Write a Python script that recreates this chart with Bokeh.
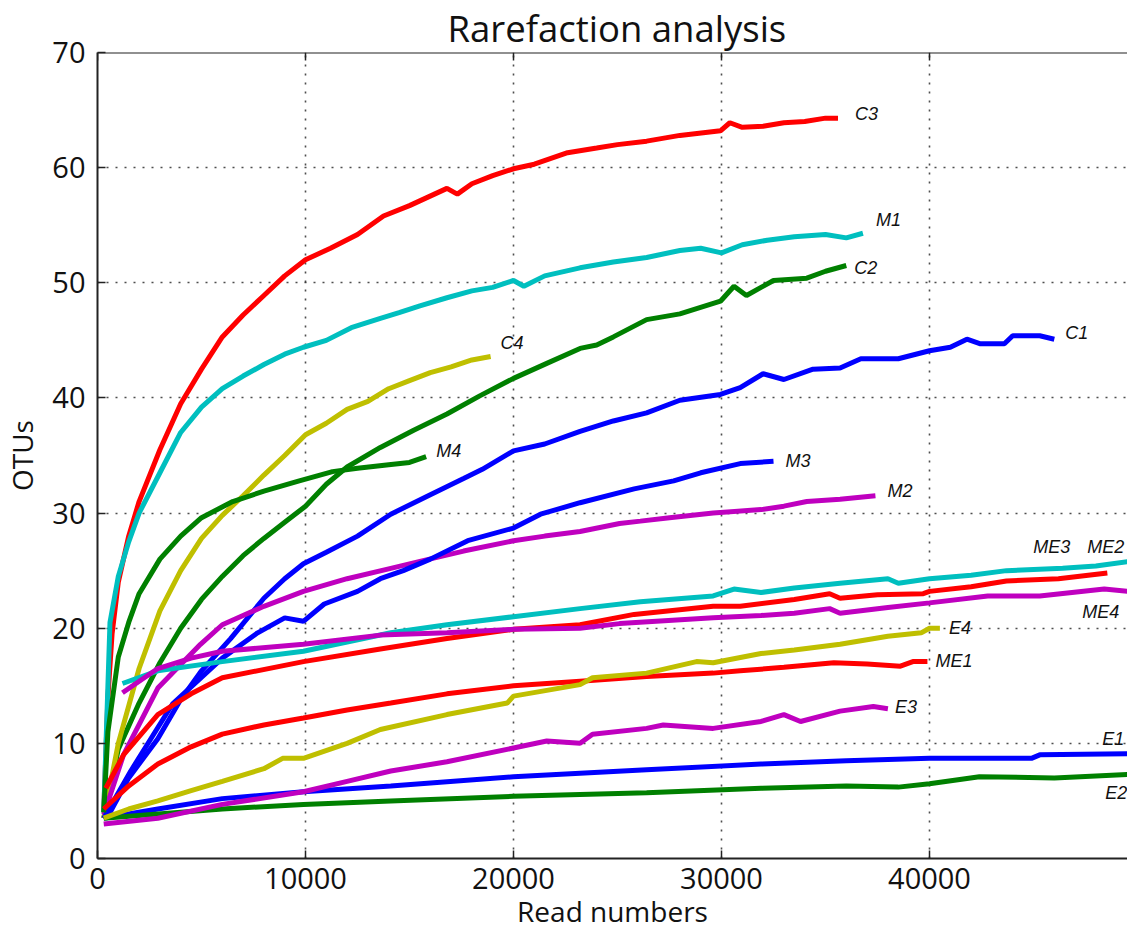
from bokeh.plotting import figure
from bokeh.models import Range1d, FixedTicker, ColumnDataSource, Span
from bokeh.core.properties import value
from bokeh.embed import file_html
from bokeh.resources import INLINE

# ---------------- data (read numbers vs OTUs) ----------------
C1_x = [300, 600, 1500, 2900, 4000, 5000, 6400, 8000, 9000, 9900, 11000, 12500, 14100, 16000, 17600, 18500, 20000, 21500, 23200, 24800, 26400, 28000, 29950, 30900, 32000, 33000, 34400, 35700, 36700, 38500, 40000, 41000, 41800, 42450, 43600, 44000, 45300, 46000]
C1_y = [3.5, 4, 7, 10.4, 13.8, 16.3, 19.1, 22.6, 24.3, 25.6, 26.6, 28, 29.9, 31.6, 33, 33.8, 35.4, 36, 37.1, 38, 38.7, 39.8, 40.3, 40.9, 42.1, 41.6, 42.5, 42.6, 43.4, 43.4, 44.1, 44.4, 45.1, 44.7, 44.7, 45.4, 45.4, 45.1]

C2_x = [300, 1000, 2000, 3000, 4000, 5000, 6000, 7000, 8000, 9000, 10000, 11000, 12000, 13600, 15200, 16800, 18400, 20000, 21600, 23200, 24000, 24800, 26400, 28000, 29950, 30600, 31200, 31900, 32500, 34100, 35000, 36000]
C2_y = [3.5, 9.5, 13.5, 17, 20, 22.5, 24.5, 26.3, 27.8, 29.2, 30.6, 32.5, 34, 35.7, 37.2, 38.6, 40.2, 41.7, 43, 44.3, 44.6, 45.3, 46.8, 47.3, 48.4, 49.7, 48.9, 49.6, 50.2, 50.4, 51, 51.5]

C3_x = [300, 500, 700, 1000, 1500, 2000, 3000, 4000, 5000, 6000, 7000, 8000, 9000, 10000, 11200, 12500, 13750, 15000, 16800, 17300, 18000, 19000, 20000, 21000, 22600, 24000, 25000, 26400, 28000, 29950, 30400, 31000, 32000, 33000, 34000, 35000, 35600]
C3_y = [4, 14, 19.5, 24, 28, 31, 35.5, 39.5, 42.5, 45.3, 47.2, 48.9, 50.6, 52, 53, 54.2, 55.8, 56.7, 58.2, 57.7, 58.6, 59.3, 59.9, 60.3, 61.3, 61.7, 62, 62.3, 62.8, 63.2, 63.9, 63.5, 63.6, 63.9, 64, 64.3, 64.3]

C4_x = [300, 1000, 2000, 3000, 4000, 5000, 6000, 7000, 8000, 9000, 10000, 11000, 12000, 13000, 14000, 15000, 16000, 17000, 18000, 18900]
C4_y = [3.5, 10, 16.5, 21.5, 25, 27.8, 29.8, 31.5, 33.3, 35, 36.8, 37.8, 39, 39.7, 40.8, 41.5, 42.2, 42.7, 43.3, 43.6]

M1_x = [300, 600, 1000, 1500, 2000, 3000, 4000, 5000, 6000, 7000, 8000, 9000, 9900, 11000, 12200, 13600, 14500, 15500, 16800, 18000, 19000, 20000, 20500, 21500, 23200, 24800, 26400, 28000, 29000, 30000, 31000, 32200, 33500, 35000, 36000, 36800]
M1_y = [4, 20.5, 24.5, 27.5, 30, 33.5, 37, 39.2, 40.8, 41.9, 42.9, 43.8, 44.4, 45, 46.1, 46.9, 47.4, 48, 48.7, 49.3, 49.6, 50.2, 49.7, 50.6, 51.3, 51.8, 52.2, 52.8, 53, 52.6, 53.3, 53.7, 54, 54.2, 53.9, 54.3]

M2_x = [300, 1250, 2900, 4950, 6000, 8000, 9900, 12000, 14100, 15500, 17600, 20000, 21500, 23200, 25100, 26100, 27500, 29600, 31900, 33000, 34100, 35700, 37400]
M2_y = [3.8, 9, 14.8, 18.6, 20.3, 21.9, 23.2, 24.3, 25.2, 25.8, 26.7, 27.6, 28, 28.4, 29.1, 29.3, 29.6, 30, 30.3, 30.6, 31, 31.2, 31.5]

M3_x = [300, 1600, 3600, 6000, 7700, 9000, 9900, 10900, 12500, 13600, 14700, 16000, 17800, 20000, 21300, 23200, 25800, 27700, 29000, 30900, 32500]
M3_y = [3.5, 7.6, 13.4, 17.4, 19.6, 20.9, 20.6, 22.1, 23.2, 24.3, 25, 26, 27.6, 28.7, 29.9, 30.9, 32.1, 32.8, 33.5, 34.3, 34.5]

M4_x = [300, 500, 1000, 1500, 2000, 3000, 4000, 5000, 6500, 8000, 9700, 11300, 12500, 14000, 15000, 15800]
M4_y = [4, 11, 17.5, 20.5, 23, 26, 28, 29.6, 31, 31.9, 32.8, 33.6, 33.9, 34.2, 34.4, 34.9]

ME1_x = [300, 1500, 2900, 4500, 6000, 8000, 9900, 12000, 14100, 16800, 20000, 23200, 26400, 29600, 30900, 33000, 35400, 37000, 38600, 39200, 39900]
ME1_y = [4.3, 6.3, 8.2, 9.7, 10.8, 11.6, 12.2, 12.9, 13.5, 14.3, 15, 15.4, 15.8, 16.1, 16.3, 16.6, 17, 16.9, 16.7, 17.1, 17.1]

ME2_x = [400, 1250, 2900, 4500, 6000, 9900, 13600, 16800, 20000, 23200, 25800, 29600, 30900, 33500, 35200, 35700, 37500, 39700, 40000, 42000, 43700, 46200, 48550]
ME2_y = [6.1, 9, 12.5, 14.3, 15.7, 17.1, 18.2, 19.1, 19.9, 20.3, 21.2, 21.9, 21.9, 22.5, 23, 22.6, 22.9, 23, 23.2, 23.6, 24.1, 24.3, 24.8]

ME3_x = [1200, 2900, 6000, 9900, 12000, 14100, 16800, 20000, 23200, 26100, 29600, 30600, 31900, 33500, 35700, 38000, 38500, 40000, 42000, 43700, 46400, 48000, 49600]
ME3_y = [15.2, 16.3, 17.1, 18, 18.8, 19.6, 20.3, 21, 21.7, 22.3, 22.8, 23.4, 23.1, 23.5, 23.9, 24.3, 23.9, 24.3, 24.6, 25, 25.2, 25.4, 25.8]

ME4_x = [1200, 2900, 4500, 6000, 9900, 13600, 16800, 20000, 23200, 25100, 29600, 31900, 33500, 35200, 35700, 38000, 40000, 42800, 45300, 48400, 49600]
ME4_y = [14.4, 16.5, 17.4, 18, 18.6, 19.4, 19.6, 19.9, 20, 20.4, 20.9, 21.1, 21.3, 21.7, 21.3, 21.8, 22.2, 22.8, 22.8, 23.4, 23.2]

E1_x = [300, 2900, 6000, 9900, 14100, 20000, 26400, 31900, 36000, 40000, 44900, 45300, 49600]
E1_y = [3.5, 4.3, 5.2, 5.8, 6.3, 7.1, 7.7, 8.2, 8.5, 8.7, 8.7, 9, 9.1]

E2_x = [300, 6000, 9900, 14100, 20000, 26400, 31900, 36000, 38500, 40000, 42400, 46000, 49600]
E2_y = [3.5, 4.3, 4.7, 5, 5.4, 5.7, 6.1, 6.3, 6.2, 6.5, 7.1, 7, 7.3]

E3_x = [300, 2900, 6000, 9900, 12000, 14100, 16800, 20000, 21600, 23200, 23800, 26400, 27200, 29600, 31900, 33000, 33800, 35700, 37300, 38000]
E3_y = [3, 3.5, 4.7, 5.8, 6.7, 7.6, 8.4, 9.6, 10.2, 10, 10.8, 11.3, 11.6, 11.3, 11.9, 12.5, 11.9, 12.8, 13.2, 13]

E4_x = [300, 1500, 2900, 4500, 6000, 8000, 8900, 9900, 12000, 13600, 16800, 19700, 20000, 23200, 23800, 26400, 28800, 29600, 31900, 33500, 35700, 38000, 39600, 40000, 40500]
E4_y = [3.5, 4.3, 5, 5.9, 6.7, 7.8, 8.7, 8.7, 10, 11.2, 12.5, 13.5, 14.1, 15.1, 15.7, 16.1, 17.1, 17, 17.8, 18.1, 18.6, 19.3, 19.6, 20, 20]

sample_names = ["C1", "C2", "C3", "C4", "M1", "M2", "M3", "M4",
                "ME1", "ME2", "ME3", "ME4", "E1", "E2", "E3", "E4"]
x_ticks = [0, 10000, 20000, 30000, 40000]
y_ticks = [0, 10, 20, 30, 40, 50, 60, 70]

series = {
    "C1": (C1_x, C1_y), "C2": (C2_x, C2_y), "C3": (C3_x, C3_y), "C4": (C4_x, C4_y),
    "M1": (M1_x, M1_y), "M2": (M2_x, M2_y), "M3": (M3_x, M3_y), "M4": (M4_x, M4_y),
    "ME1": (ME1_x, ME1_y), "ME2": (ME2_x, ME2_y), "ME3": (ME3_x, ME3_y), "ME4": (ME4_x, ME4_y),
    "E1": (E1_x, E1_y), "E2": (E2_x, E2_y), "E3": (E3_x, E3_y), "E4": (E4_x, E4_y),
}

# ---------------- styles ----------------
B, G, R, C, M, Y = "#0000ff", "#008000", "#ff0000", "#00bfbf", "#bf00bf", "#bfbf00"
colors = {"C1": B, "C2": G, "C3": R, "C4": Y, "M1": C, "M2": M, "M3": B, "M4": G,
          "ME1": R, "ME2": R, "ME3": C, "ME4": M, "E1": B, "E2": G, "E3": M, "E4": Y}
# label offsets from the end of each curve, in screen pixels (dx right, dy down)
label_offsets = {"C1": (11, -6), "C2": (8, 2), "C3": (17, -4), "C4": (10, -13),
                 "M1": (13, -13), "M2": (12, -5), "M3": (12, 0), "M4": (10, -6),
                 "ME1": (8, -1), "ME2": (-20, -26), "ME3": (-96, -14), "ME4": (-47, 21),
                 "E1": (-27, -15), "E2": (-24, 19), "E3": (7, -2), "E4": (9, 0)}

FONT = "Open Sans"
INK = "#111111"
X_END = 49519          # right edge of the visible (cropped) frame
FRAME_H = 805          # px, used only to size the inner top ticks
TICK_PX = 8

p = figure(width=1127, height=932, output_backend="svg", toolbar_location=None,
           x_range=Range1d(0, X_END), y_range=Range1d(0, 70),
           min_border_left=97, min_border_right=0, min_border_bottom=0, min_border_top=44,
           title="Rarefaction analysis")
p.outline_line_color = None
p.background_fill_color = "white"
p.border_fill_color = "white"

p.title.text_font = FONT
p.title.text_font_size = "36.5px"
p.title.text_font_style = "normal"
p.title.align = "left"
p.title.offset = 350
p.title.text_color = INK
p.title.standoff = 0

for ax in (p.xaxis[0], p.yaxis[0]):
    ax.major_tick_in = TICK_PX
    ax.major_tick_out = 0
    ax.minor_tick_in = 0
    ax.minor_tick_out = 0
    ax.axis_line_width = 2
    ax.axis_line_color = "#222222"
    ax.major_tick_line_color = "#222222"
    ax.major_tick_line_width = 1.5
    ax.major_label_text_font = FONT
    ax.major_label_text_font_size = "29px"
    ax.major_label_text_color = INK
    ax.axis_label_text_font = FONT
    ax.axis_label_text_font_size = "28px"
    ax.axis_label_text_font_style = "normal"
    ax.axis_label_text_color = INK

p.xaxis.ticker = FixedTicker(ticks=x_ticks)
p.yaxis.ticker = FixedTicker(ticks=y_ticks)
p.xaxis.axis_label = "Read numbers"
p.xaxis.major_label_standoff = 9
p.xaxis.axis_label_standoff = 0
p.yaxis.axis_label = "OTUs"
p.yaxis.major_label_standoff = 12
p.yaxis.axis_label_standoff = 8

# top spine with inner ticks
p.add_layout(Span(location=70, dimension="width", line_color="#222222", line_width=2))
tick_len = 70 * TICK_PX / FRAME_H
p.segment(x0=x_ticks, y0=[70] * len(x_ticks), x1=x_ticks, y1=[70 - tick_len] * len(x_ticks),
          line_color="#222222", line_width=1.5)

for g in (p.xgrid[0], p.ygrid[0]):
    g.grid_line_color = "#222222"
    g.grid_line_dash = "2 7"
    g.grid_line_width = 1.6
    g.grid_line_alpha = 0.8

for name in sample_names:
    xs, ys = series[name]
    p.line(xs, ys, line_color=colors[name], line_width=5)

lab = ColumnDataSource(dict(
    x=[series[n][0][-1] for n in sample_names],
    y=[series[n][1][-1] for n in sample_names],
    text=sample_names,
    dx=[label_offsets[n][0] for n in sample_names],
    dy=[label_offsets[n][1] for n in sample_names],
))
p.text(x="x", y="y", text="text", x_offset="dx", y_offset="dy", source=lab,
       text_font=value("Liberation Sans"), text_font_style="italic",
       text_font_size="18px", text_baseline="middle", text_align="left",
       text_color=INK)

open("out.html", "w").write(file_html(p, INLINE))
